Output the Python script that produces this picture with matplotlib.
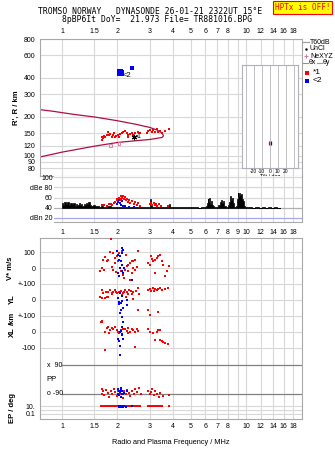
import numpy as np
import matplotlib
matplotlib.use("Agg")
import matplotlib.pyplot as plt

W, H = 335, 451

# ---- data -------------------------------------------------------------
freq_ticks = [1, 1.5, 2, 3, 4, 5, 6, 7, 8, 10, 12, 14, 16, 18]
freq_tick_labels = ["1", "1.5", "2", "3", "4", "5", "6", "7", "8", "10", "12", "14", "16", "18"]
mid_ticks = [1, 1.5, 2, 3, 4, 5, 6, 7, 8, 9, 10, 12, 14, 16, 18]
mid_tick_labels = ["1", "1.5", "2", "3", "4", "5", "6", "7", "8", "9", "10", "12", "14", "16", "18"]
grid_freqs = [1, 1.5, 2, 3, 4, 5, 6, 7, 8, 9, 10, 12, 14, 16, 18]
height_ticks = [80, 90, 100, 120, 150, 200, 300, 400, 600, 800]

# echo trace 1 (red) : frequency MHz, virtual height km
echo1_f = [1.64, 1.66, 1.70, 1.75, 1.78, 1.80, 1.82, 1.86, 1.90, 1.92, 1.94, 1.96, 2.01, 2.04,
           2.07, 2.11, 2.15, 2.20, 2.25, 2.27, 2.29, 2.34, 2.39, 2.44, 2.49, 2.55, 2.60, 2.65,
           2.88, 2.94, 3.01, 3.07, 3.14, 3.20, 3.27, 3.34, 3.41, 3.48, 3.63, 3.81, 1.68, 1.72]
echo1_h = [133, 141, 142, 145, 154, 145, 147, 141, 145, 150, 140, 142, 145, 141,
           147, 150, 154, 156, 151, 145, 141, 147, 150, 145, 151, 142, 154, 150,
           151, 156, 158, 154, 158, 154, 161, 154, 156, 151, 156, 161, 137, 139]
# echo trace 2 (blue)
echo2_f = [2.04, 2.06, 2.08, 2.10, 2.07, 2.05, 2.09, 2.12, 2.11, 2.03, 2.13, 2.08, 2.39]
echo2_h = [440, 452, 446, 436, 426, 430, 456, 441, 428, 450, 447, 438, 480]
# model profile
prof_f = [0.755, 0.9, 1.0, 1.2, 1.5, 2.0, 2.5, 3.0, 3.3, 3.5, 3.56, 3.5, 3.3, 3.0, 2.5, 2.0, 1.5, 1.0, 0.755]
prof_h = [228, 221, 216, 208, 200, 187, 176, 166, 158, 150, 143, 139, 137, 134, 131, 127, 119, 107, 98]
nexyz_f = [1.83, 2.04]
nexyz_h = [121, 125]

# amplitude panel
noise_f = [1.00, 1.02, 1.04, 1.06, 1.08, 1.10, 1.12, 1.14, 1.16, 1.18, 1.20, 1.22, 1.24, 1.26,
           1.28, 1.30, 1.32, 1.34, 1.36, 1.38, 1.40, 1.43, 1.46, 1.49, 1.52, 1.56, 1.60, 1.65,
           1.70, 1.80, 1.90, 2.00, 2.10, 2.20, 2.30, 2.40, 2.50, 2.60, 2.70, 2.80, 2.90, 3.00,
           3.04, 3.07, 3.10, 3.20, 3.30, 3.40, 3.50, 3.60, 3.70, 3.80, 3.84, 3.88, 4.00, 4.20,
           4.40, 4.60, 4.80, 5.00, 5.20, 5.40, 5.60, 5.80, 6.00, 6.08, 6.15, 6.22, 6.28, 6.34,
           6.40, 6.48, 6.56, 6.65, 6.80, 7.00, 7.15, 7.25, 7.35, 7.45, 7.55, 7.70, 7.90, 8.05,
           8.15, 8.25, 8.35, 8.45, 8.55, 8.70, 8.85, 8.95, 9.05, 9.15, 9.25, 9.35, 9.45, 9.55,
           9.65, 9.80, 10.0, 10.3, 10.6, 11.0, 11.5, 12.0, 12.5, 13.0, 13.5, 14.0, 14.5, 15.0, 15.3]
noise_db = [50, 46, 52, 48, 51, 45, 49, 47, 50, 44, 48, 46, 49, 45,
            47, 44, 48, 45, 50, 47, 52, 46, 44, 45, 43, 44, 42, 43,
            42, 43, 42, 42, 41, 42, 41, 42, 41, 42, 41, 41, 42, 41,
            58, 46, 42, 41, 42, 41, 41, 42, 41, 43, 47, 42, 41, 41,
            42, 41, 41, 42, 41, 41, 40, 41, 42, 44, 50, 57, 52, 59,
            48, 54, 46, 44, 41, 42, 45, 52, 55, 50, 53, 43, 41, 46,
            52, 63, 56, 60, 49, 42, 44, 58, 68, 62, 69, 64, 66, 57,
            53, 44, 42, 41, 41, 40, 41, 40, 41, 40, 41, 40, 41, 40, 40]
amp1_f = [1.65, 1.70, 1.75, 1.80, 1.85, 1.88, 1.92, 1.95, 1.98, 2.00, 2.03, 2.06, 2.08, 2.10,
          2.12, 2.15, 2.18, 2.20, 2.22, 2.25, 2.28, 2.30, 2.35, 2.40, 2.45, 2.50, 2.55, 2.60,
          2.65, 3.00, 3.05, 3.10, 3.15, 3.20, 3.25, 3.30, 3.35, 3.45, 3.78]
amp1_db = [45, 46, 44, 47, 48, 45, 50, 52, 55, 57, 60, 58, 62, 55,
           60, 63, 57, 61, 55, 58, 52, 56, 50, 53, 48, 51, 46, 49,
           44, 47, 50, 46, 49, 45, 48, 44, 47, 43, 44]
amp2_f = [2.00, 2.02, 2.05, 2.07, 2.10, 2.12, 2.15, 2.20, 2.30, 2.45]
amp2_db = [48, 52, 55, 50, 46, 53, 44, 43, 42, 42]

# Doppler / location / polarisation tracks
vs1_f = [1.84, 1.82, 1.90, 1.78, 1.75, 1.94, 1.98, 2.02, 1.94, 1.64, 1.70, 1.61, 1.86, 1.90,
         2.20, 2.25, 2.29, 2.34, 2.39, 2.44, 2.49, 2.60, 2.15, 2.18, 2.29, 2.39, 2.44, 2.49,
         2.55, 2.34, 2.94, 3.01, 3.05, 3.14, 3.20, 3.27, 3.34, 3.41, 3.48, 3.55, 3.70, 3.80,
         3.62, 1.67, 1.72, 2.05, 2.12, 2.22, 1.96, 2.08, 3.08, 3.22]
vs1_v = [185, 102, 96, 54, 48, 64, 75, 44, 33, 2, -9, -19, 6, -9,
         -9, 12, 23, 33, 44, 48, 54, 106, -40, -61, -19, -29, 2, -9,
         6, -71, 33, 23, 75, 44, 54, 64, 75, 83, 44, 23, -19, 16,
         -46, 50, 70, 95, 110, 85, -25, -15, 60, -30]
vs2_f = [1.98, 2.02, 2.07, 2.11, 2.15, 2.04, 2.09, 2.11, 2.07, 2.11, 2.15, 2.02, 2.18, 2.39, 2.13, 2.05]
vs2_v = [106, 85, 75, 96, 116, 54, 44, 23, 2, -19, -29, -29, 2, -71, 130, -45]

yl1_f = [1.64, 1.68, 1.73, 1.78, 1.82, 1.86, 1.90, 1.94, 2.00, 2.05, 2.11, 2.17, 2.25, 2.32,
         2.39, 2.44, 2.52, 2.60, 2.63, 1.61, 1.71, 1.78, 2.94, 3.01, 3.11, 3.16, 3.27, 3.34,
         3.41, 3.48, 2.23, 2.44, 2.94, 3.34, 3.78, 1.64, 1.75, 2.60, 3.01, 2.08, 2.14, 2.20,
         2.28, 2.36, 1.88, 1.97, 3.05, 3.20, 3.62]
yl1_v = [62, 42, 52, 48, 62, 42, 52, 62, 42, 52, 31, 52, 48, 62,
         37, 52, 58, 73, 37, 21, 10, 21, 62, 67, 73, 58, 62, 67,
         73, 62, 21, 4, -62, -73, 73, 10, 21, -62, -94, 58, 45, 60,
         40, 55, 35, 48, 55, 66, 68]
yl2_f = [2.07, 2.11, 2.02, 2.04, 2.09, 2.13, 2.25, 2.25, 2.15, 2.13, 2.05, 2.10, 2.06]
yl2_v = [42, 25, 10, -10, -17, -4, 0, -31, -52, -104, -25, -60, -80]

xl1_f = [1.64, 1.63, 1.78, 1.75, 1.82, 1.71, 1.86, 1.90, 1.94, 1.98, 2.02, 2.20, 2.25, 2.29,
         2.34, 2.39, 2.44, 2.49, 2.55, 2.29, 2.94, 3.01, 3.14, 3.27, 3.34, 3.20, 3.41, 3.55,
         3.63, 3.78, 1.71, 2.49, 3.41, 3.48, 3.62, 1.66, 2.05, 2.10, 2.15, 1.80, 2.60]
xl1_v = [69, 60, 33, 23, 12, 2, 23, 17, 29, 12, 2, 17, 8, 23,
         2, 17, 12, 2, 17, -8, 17, 2, -4, 2, 12, -50, -50, -60,
         -71, -75, -112, -92, 12, -55, -67, 64, -5, 10, 20, -8, 5]
xl2_f = [2.14, 2.11, 2.09, 2.07, 2.11, 2.04, 2.15, 2.07, 2.07, 2.02, 2.13]
xl2_v = [60, 29, 8, -2, -12, -54, -44, -86, -144, -44, -20]

pp1_f = [1.64, 1.68, 1.70, 1.73, 1.78, 1.80, 1.84, 1.88, 1.92, 1.95, 1.98, 2.02, 2.06, 2.10,
         2.14, 2.18, 2.22, 2.26, 2.30, 2.35, 2.40, 2.45, 2.50, 2.56, 2.62, 2.95, 3.00, 3.05,
         3.10, 3.15, 3.20, 3.28, 3.35, 3.42, 3.55, 3.80, 1.66, 2.68]
pp1_v = [-60, -75, -100, -65, -85, -110, -70, -95, -60, -80, -105, -70, -90, -60,
         -115, -75, -95, -65, -85, -105, -70, -90, -60, -80, -55, -70, -95, -80,
         -60, -100, -75, -90, -110, -85, -105, -100, -90, -95]
pp2_f = [2.02, 2.05, 2.07, 2.09, 2.11, 2.13, 2.05, 2.08, 2.15, 2.18, 2.25, 2.02, 2.10]
pp2_v = [-60, -70, -80, -65, -90, -75, -100, -110, -95, -85, -70, -95, -55]

ep1_f = [1.63, 1.66, 1.69, 1.72, 1.75, 1.78, 1.81, 1.84, 1.87, 1.90, 1.93, 1.96, 1.99, 2.02,
         2.05, 2.08, 2.11, 2.14, 2.17, 2.20, 2.24, 2.28, 2.32, 2.36, 2.40, 2.45, 2.50, 2.55,
         2.60, 2.65, 2.95, 3.00, 3.05, 3.10, 3.15, 3.20, 3.26, 3.32, 3.40, 3.50, 3.80]
ep1_v = [12, 10, 14, 11, 9, 13, 10, 12, 15, 10, 11, 13, 9, 12,
         10, 14, 11, 9, 12, 10, 13, 11, 9, 12, 10, 14, 11, 10,
         12, 9, 12, 10, 13, 11, 9, 12, 10, 14, 11, 12, 10]
ep2_f = [2.03, 2.05, 2.07, 2.09, 2.11, 2.13, 2.15, 2.18, 2.22, 2.40]
ep2_v = [8, 9, 8, 10, 8, 9, 8, 9, 8, 9]

tilt1 = [-1.5]
tilt2 = [1.5]
tilt_h = [125]

# ---- layout helpers (pixel geometry of the original) ------------------
def box(x0, y0, x1, y1):
    return [x0 / W, 1 - y1 / H, (x1 - x0) / W, (y1 - y0) / H]

def f_at(px):
    return 10 ** ((px - 62.0) / 184.0)

XLIM = (f_at(39.5), f_at(301.7))
GRID = "#d8d8d8"
SPINE = "#a8a8a8"
RED = "#ff0000"
BLUE = "#0000ff"
FS = 5.0
plt.rcParams["font.family"] = ["Liberation Sans", "DejaVu Sans"]

fig = plt.figure(figsize=(W / 100, H / 100), dpi=100)
fig.patch.set_facecolor("white")


def style(ax):
    for s in ax.spines.values():
        s.set_color(SPINE)
        s.set_linewidth(0.8)
    ax.tick_params(length=0, labelsize=FS, colors="black")
    ax.minorticks_off()


# ---- top panel: heights -----------------------------------------------
ax1 = fig.add_axes(box(39.5, 39, 301.7, 176))
ax1.set_xscale("log")
ax1.set_yscale("log")
ax1.set_xlim(*XLIM)
ax1.set_ylim(70, 800)
style(ax1)
for f in grid_freqs:
    ax1.axvline(f, color=GRID, lw=0.8, zorder=0)
for h in height_ticks:
    ax1.axhline(h, color=GRID, lw=0.8, zorder=0)
ax1.xaxis.tick_top()
ax1.set_xticks(freq_ticks)
ax1.set_xticklabels(freq_tick_labels)
ax1.set_yticks(height_ticks)
ax1.set_yticklabels([str(h) for h in height_ticks])
ax1.minorticks_off()
ax1.tick_params(axis="x", pad=3)
ax1.tick_params(axis="y", pad=3)
ax1.set_ylabel("R', R / km", fontsize=FS + 0.5, fontweight="bold", labelpad=3)

ax1.plot(prof_f, prof_h, color="#b01040", lw=0.9, zorder=2)
ax1.scatter(echo1_f, echo1_h, marker="s", s=2.2, color=RED, lw=0, zorder=3)
ax1.scatter(echo2_f, echo2_h, marker="s", s=6, color=BLUE, lw=0, zorder=3)
ax1.scatter(nexyz_f, nexyz_h, marker="s", s=4, facecolor="none", edgecolor="#e070a0", lw=0.6, zorder=3)
ax1.plot([2.47], [141], marker=(6, 2, 0), color="black", ms=4, mew=0.8, zorder=4)
ax1.text(2.55, 141, "1", fontsize=FS, va="center", ha="left", zorder=4)
ax1.text(2.14, 418, "<2", fontsize=FS + 0.5, va="center", ha="left", zorder=4)

# tilt inset
axi = fig.add_axes(box(241.7, 65, 297.7, 167.7))
axi.set_yscale("log")
axi.set_xlim(-35, 35)
axi.set_ylim(80.6, 504)
axi.set_facecolor("white")
style(axi)
for s in axi.spines.values():
    s.set_color("#b0b0b8")
for t in [-30, -20, -10, 0, 10, 20, 30]:
    axi.axvline(t, color="#b4b4bc", lw=0.6, zorder=0)
axi.set_yticks([])
axi.minorticks_off()
axi.set_xticks([-20, -10, 0, 10, 20])
axi.set_xticklabels(["-20", "-10", "0", "10", "20"])
axi.tick_params(axis="x", labelsize=3.6, pad=1)
axi.set_xlabel("Tilt / deg", fontsize=3.8, labelpad=0)
axi.scatter(tilt1, tilt_h, marker="|", s=6, color=RED, lw=0.9, zorder=3)
axi.scatter(tilt2, tilt_h, marker="|", s=6, color=BLUE, lw=0.9, zorder=3)

# ---- amplitude panel --------------------------------------------------
ax2 = fig.add_axes(box(54, 176, 301.7, 222.3))
ax2.set_xscale("log")
ax2.set_xlim(f_at(54), XLIM[1])
ax2.set_ylim(11, 102.5)
style(ax2)
ax2.spines["left"].set_visible(False)
ax2.spines["top"].set_visible(False)
for f in grid_freqs:
    ax2.axvline(f, color=GRID, lw=0.8, zorder=0)
for d, c in [(100, GRID), (80, GRID), (60, GRID), (40, "#b0b0b0"), (20, "#a8a8f0")]:
    ax2.axhline(d, color=c, lw=0.9, zorder=0)
ax2.set_yticks([100, 80, 60, 40, 20])
ax2.set_yticklabels(["100", "dBe 80", "60", "40", "dBn 20"])
ax2.set_xticks(mid_ticks)
ax2.set_xticklabels(mid_tick_labels)
ax2.minorticks_off()
ax2.tick_params(axis="x", pad=4.5)
ax2.tick_params(axis="y", pad=1)
ax2.fill_between(noise_f, 39.5, noise_db, step="mid", color="black", lw=0.5, zorder=2)
ax2.scatter(amp1_f, amp1_db, marker="s", s=2.2, color=RED, lw=0, zorder=3)
ax2.scatter(amp2_f, amp2_db, marker="s", s=4, color=BLUE, lw=0, zorder=3)

# ---- lower panel: V*, YL, XL, PP, EP ----------------------------------
def vs_u(v):
    return 150.7 + np.asarray(v) * 0.16

def yl_u(v):
    return 119.0 + np.asarray(v) * 0.16

def xl_u(v):
    return 87.0 + np.asarray(v) * 0.16

def pp_u(d):
    return 39.5 + np.asarray(d) * 14.2 / 90.0

def ep_u(e):
    return 12.7 + (np.log10(np.asarray(e, dtype=float)) - 1) * 3.85

ax3 = fig.add_axes(box(39.5, 238.3, 301.7, 419))
ax3.set_xscale("log")
ax3.set_xlim(*XLIM)
ax3.set_ylim(0, 180.7)
style(ax3)
for f in grid_freqs:
    ax3.axvline(f, color=GRID, lw=0.8, zorder=0)
ytk = [vs_u(100), vs_u(0), yl_u(100), yl_u(0), xl_u(100), xl_u(0), xl_u(-100), ep_u(10), ep_u(1), ep_u(0.1)]
for y in ytk:
    ax3.axhline(y, color=GRID, lw=0.8, zorder=0)
for y in [pp_u(90), pp_u(-90)]:
    ax3.axhline(y, xmin=0.085, color="#808080", lw=0.9, zorder=0)
ax3.set_yticks([vs_u(100), vs_u(0), yl_u(100), yl_u(0), xl_u(100), xl_u(0), xl_u(-100), ep_u(10), ep_u(0.1)])
ax3.set_yticklabels(["100", "0", "+-100", "0", "+-100", "0", "-100", "10.", "0.1"])
ax3.set_xticks(freq_ticks)
ax3.set_xticklabels(freq_tick_labels)
ax3.minorticks_off()
ax3.tick_params(axis="x", pad=3)
ax3.tick_params(axis="y", pad=3)
ax3.set_xlabel("Radio and Plasma Frequency / MHz", fontsize=FS + 0.3, labelpad=6)
ytr = ax3.get_yaxis_transform()
ax3.text(0.027, pp_u(90), "x  90", fontsize=FS, va="center", ha="left", transform=ytr)
ax3.text(0.027, pp_u(-90), "o -90", fontsize=FS, va="center", ha="left", transform=ytr)
ax3.text(0.027, pp_u(0), "PP", fontsize=FS + 0.5, va="center", ha="left", transform=ytr)

ms = 2.2
ax3.scatter(vs1_f, vs_u(vs1_v), marker="s", s=ms, color=RED, lw=0, zorder=3)
ax3.scatter(yl1_f, yl_u(yl1_v), marker="s", s=ms, color=RED, lw=0, zorder=3)
ax3.scatter(xl1_f, xl_u(xl1_v), marker="s", s=ms, color=RED, lw=0, zorder=3)
ax3.scatter(pp1_f, pp_u(pp1_v), marker="s", s=ms, color=RED, lw=0, zorder=3)
ax3.scatter(ep1_f, ep_u(ep1_v), marker="s", s=ms, color=RED, lw=0, zorder=3)
ax3.scatter(vs2_f, vs_u(vs2_v), marker="s", s=ms, color=BLUE, lw=0, zorder=4)
ax3.scatter(yl2_f, yl_u(yl2_v), marker="s", s=ms, color=BLUE, lw=0, zorder=4)
ax3.scatter(xl2_f, xl_u(xl2_v), marker="s", s=ms, color=BLUE, lw=0, zorder=4)
ax3.scatter(pp2_f, pp_u(pp2_v), marker="s", s=ms, color=BLUE, lw=0, zorder=4)
ax3.scatter(ep2_f, ep_u(ep2_v), marker="s", s=ms, color=BLUE, lw=0, zorder=4)

# ---- overlay: titles, side labels, legend ------------------------------
ov = fig.add_axes([0, 0, 1, 1], facecolor="none")
ov.set_xlim(0, W)
ov.set_ylim(H, 0)
ov.axis("off")
mono = "DejaVu Sans Mono"
ov.text(150, 12, "TROMSO NORWAY   DYNASONDE 26-01-21 2322UT 15\u00b0E", family=mono,
        fontsize=5.8, ha="center", va="center")
ov.text(157, 20, "8pBP6It DoY=  21.973 File= TR881016.BPG", family=mono,
        fontsize=5.8, ha="center", va="center")
ov.text(302.5, 7.5, "HPTx is OFF!", family=mono, fontsize=5.5, color=RED, ha="center", va="center",
        bbox=dict(boxstyle="square,pad=0.25", facecolor="#ffff00", edgecolor=RED, lw=0.8))

for x, y, s in [(10, 268, "V* m/s"), (12, 299, "YL"), (12, 318, "/km"), (12, 332, "XL"), (12, 408, "EP / deg")]:
    ov.text(x, y, s, rotation=90, fontsize=FS + 0.5, fontweight="bold", ha="center", va="center")

ov.plot([303, 309], [42, 42], color="#a0a0a0", lw=0.9)
ov.text(310, 42, "T60dB", fontsize=FS, va="center")
ov.plot([306], [49], marker=".", ms=1.5, color="black")
ov.text(310, 49, "UnCl", fontsize=FS, va="center")
ov.plot([306], [56], marker="+", ms=3.5, color="#e070a0", mew=0.7)
ov.text(310, 56, "NeXYZ", fontsize=FS, va="center")
ov.plot([303, 308], [63, 63], color="#e07080", lw=0.8)
ov.text(308.5, 63, "\u03b8x", fontsize=FS, va="center")
ov.plot([317, 322], [63, 63], color="#9090e0", lw=0.8)
ov.text(322.5, 63, "\u03b8y", fontsize=FS, va="center")
ov.plot([306.5], [72.5], marker="s", ms=2.5, color=RED, mew=0)
ov.text(313, 72.5, "*1", fontsize=FS + 1, va="center")
ov.plot([306.5], [81], marker="s", ms=2.5, color=BLUE, mew=0)
ov.text(313, 81, "<2", fontsize=FS + 1, va="center")

fig.savefig("out.png", dpi=100)
